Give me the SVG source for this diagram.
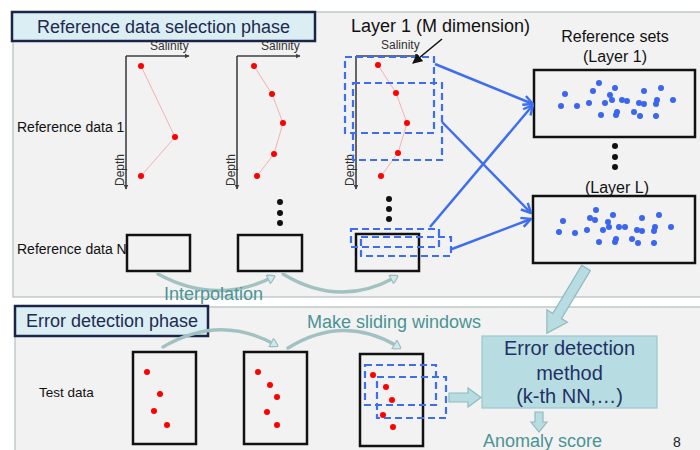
<svg xmlns="http://www.w3.org/2000/svg" width="700" height="450" viewBox="0 0 700 450">
  <defs>
    <style>
      text { font-family: "Liberation Sans", Arial, sans-serif; }
      .panel { fill: #f2f2f2; stroke: #b4bcbc; stroke-width: 1.2; }
      .title { fill: #dbeef4; stroke: #1c2448; stroke-width: 2.5; }
      .title-t { font-size: 18px; fill: #1f2a50; }
      .lbl { font-size: 14px; fill: #111; }
      .ax { stroke: #404040; stroke-width: 1.6; fill: none; }
      .ax-t { font-size: 12px; fill: #333; }
      .prof { stroke: #f4a0a0; stroke-width: 0.8; fill: none; }
      .pt { fill: #ff0000; }
      .box { fill: none; stroke: #111; stroke-width: 2.5; }
      .win { fill: none; stroke: #3d6ef0; stroke-width: 2.2; stroke-dasharray: 7 4; }
      .bl { stroke: #3d6ef0; stroke-width: 2.5; fill: none; }
      .sd { fill: #3a66f0; }
      .dot { fill: #111; }
      .cur { stroke: #a2c2c2; stroke-width: 3.4; fill: none; stroke-linecap: round; }
      .teal { font-size: 18px; fill: #4a9494; }
      .blk { fill: #b7dde2; stroke: #8fbcbc; stroke-width: 1.2; }
      .meth { font-size: 20px; fill: #1f3064; text-anchor: middle; }
    </style>
    <marker id="axh" viewBox="0 0 10 10" refX="9" refY="5" markerWidth="5" markerHeight="5" orient="auto" markerUnits="userSpaceOnUse">
      <path d="M0,0 L10,5 L0,10 z" fill="#404040"/>
    </marker>
    <marker id="blh" viewBox="0 0 10 10" refX="9" refY="5" markerWidth="12" markerHeight="12" orient="auto" markerUnits="userSpaceOnUse">
      <path d="M1,1 L9,5 L1,9" fill="none" stroke="#3d6ef0" stroke-width="2"/>
    </marker>
    <marker id="kh" viewBox="0 0 10 10" refX="9" refY="5" markerWidth="10" markerHeight="10" orient="auto" markerUnits="userSpaceOnUse">
      <path d="M0,0 L10,5 L0,10 z" fill="#111"/>
    </marker>
    <marker id="ch" viewBox="0 0 10 10" refX="5" refY="5" markerWidth="10" markerHeight="10" orient="auto" markerUnits="userSpaceOnUse">
      <path d="M2,0 L10,5 L2,10 z" fill="#cfe9ec" stroke="#9dbdbd" stroke-width="1.2"/>
    </marker>
  </defs>

  <rect width="700" height="450" fill="#ffffff"/>

  <!-- panels -->
  <rect class="panel" x="13" y="12" width="700" height="285"/>
  <rect class="panel" x="15" y="307" width="700" height="160"/>

  <g id="title-ref">
    <rect class="title" x="12" y="12" width="303" height="29"/>
    <text class="title-t" x="163.5" y="33" text-anchor="middle">Reference data selection phase</text>
  </g>
  <g id="title-err">
    <rect class="title" x="15" y="306" width="193" height="30"/>
    <text class="title-t" x="26" y="327">Error detection phase</text>
  </g>

  <g id="row-labels">
    <text class="lbl" x="17" y="132">Reference data 1</text>
    <text class="lbl" x="17" y="254">Reference data N</text>
    <text class="lbl" x="39" y="397" style="font-size:13.5px">Test data</text>
  </g>

  <!-- profile 1 -->
  <g id="profile-1">
    <path class="ax" d="M126,56 V189" marker-end="url(#axh)"/>
    <path class="ax" d="M126,56 H189" marker-end="url(#axh)"/>
    <text class="ax-t" x="150" y="50">Salinity</text>
    <text class="ax-t" transform="translate(124,186) rotate(-90)">Depth</text>
    <polyline class="prof" points="141,66 175,137 141,176"/>
    <circle class="pt" cx="141" cy="66" r="3"/>
    <circle class="pt" cx="175" cy="137" r="3"/>
    <circle class="pt" cx="141" cy="176" r="3"/>
  </g>

  <!-- profile 2 -->
  <g id="profile-2">
    <path class="ax" d="M237,56 V189" marker-end="url(#axh)"/>
    <path class="ax" d="M237,56 H300" marker-end="url(#axh)"/>
    <text class="ax-t" x="261" y="50">Salinity</text>
    <text class="ax-t" transform="translate(235,186) rotate(-90)">Depth</text>
    <polyline class="prof" points="254,66 272,94 283,123 274,154 257,176"/>
    <circle class="pt" cx="254" cy="66" r="3"/>
    <circle class="pt" cx="272" cy="94" r="3"/>
    <circle class="pt" cx="283" cy="123" r="3"/>
    <circle class="pt" cx="274" cy="154" r="3"/>
    <circle class="pt" cx="257" cy="176" r="3"/>
  </g>

  <!-- profile 3 with windows -->
  <g id="profile-3">
    <path class="ax" d="M356,56 V189" marker-end="url(#axh)"/>
    <path class="ax" d="M356,56 H419" marker-end="url(#axh)"/>
    <text class="ax-t" x="381" y="49">Salinity</text>
    <text class="ax-t" transform="translate(354,186) rotate(-90)">Depth</text>
    <polyline class="prof" points="378,65 396,93 407,123 398,153 381,176"/>
    <circle class="pt" cx="378" cy="65" r="3"/>
    <circle class="pt" cx="396" cy="93" r="3"/>
    <circle class="pt" cx="407" cy="123" r="3"/>
    <circle class="pt" cx="398" cy="153" r="3"/>
    <circle class="pt" cx="381" cy="176" r="3"/>
    <rect class="win" x="345" y="57" width="89" height="76"/>
    <rect class="win" x="353" y="83" width="89" height="77"/>
  </g>

  <g id="layer-label">
    <text x="351" y="32" style="font-size:18px" fill="#111">Layer 1 (M dimension)</text>
    <path d="M442,39 L413,63" stroke="#111" stroke-width="1.6" fill="none" marker-end="url(#kh)"/>
  </g>

  <!-- reference data N -->
  <g id="refN-1"><rect class="box" x="127" y="235" width="63" height="36"/></g>
  <g id="refN-2">
    <rect class="box" x="238" y="235" width="64" height="36"/>
    <circle class="dot" cx="280" cy="202" r="3"/>
    <circle class="dot" cx="280" cy="213" r="3"/>
    <circle class="dot" cx="280" cy="223" r="3"/>
  </g>
  <g id="refN-3">
    <rect class="box" x="356" y="234" width="63" height="37"/>
    <circle class="dot" cx="389" cy="199" r="3"/>
    <circle class="dot" cx="389" cy="209" r="3"/>
    <circle class="dot" cx="389" cy="219" r="3"/>
    <rect class="win" x="351" y="229" width="88" height="18"/>
    <rect class="win" x="361" y="237" width="90" height="19"/>
  </g>

  <!-- reference sets -->
  <g id="refset-labels">
    <text x="615" y="42" text-anchor="middle" style="font-size:16px" fill="#111">Reference sets</text>
    <text x="615" y="62" text-anchor="middle" style="font-size:16px" fill="#111">(Layer  1)</text>
    <text x="617" y="193" text-anchor="middle" style="font-size:16px" fill="#111">(Layer  L)</text>
    <circle class="dot" cx="615" cy="146" r="3"/>
    <circle class="dot" cx="615" cy="157" r="3"/>
    <circle class="dot" cx="615" cy="167" r="3"/>
  </g>

  <g id="refset-1">
    <rect class="box" x="534" y="70" width="161" height="67"/>
    <g class="sd">
      <circle cx="599" cy="83" r="3"/><circle cx="565" cy="94" r="3"/><circle cx="593" cy="91" r="3"/>
      <circle cx="615" cy="88" r="3"/><circle cx="610" cy="95" r="3"/><circle cx="644" cy="91" r="3"/>
      <circle cx="661" cy="88" r="3"/><circle cx="561" cy="106" r="3"/><circle cx="577" cy="106" r="3"/>
      <circle cx="589" cy="103" r="3"/><circle cx="605" cy="103" r="3"/><circle cx="612" cy="100" r="3"/>
      <circle cx="622" cy="100" r="3"/><circle cx="627" cy="101" r="3"/><circle cx="639" cy="103" r="3"/>
      <circle cx="644" cy="104" r="3"/><circle cx="657" cy="100" r="3"/><circle cx="656" cy="104" r="3"/>
      <circle cx="673" cy="100" r="3"/><circle cx="601" cy="115" r="3"/><circle cx="617" cy="112" r="3"/>
      <circle cx="616" cy="115" r="3"/><circle cx="634" cy="112" r="3"/><circle cx="640" cy="116" r="3"/>
      <circle cx="656" cy="116" r="3"/>
    </g>
  </g>

  <g id="refset-L">
    <rect class="box" x="533" y="196" width="162" height="67"/>
    <g class="sd">
      <circle cx="596" cy="210" r="3"/><circle cx="563" cy="221" r="3"/><circle cx="590" cy="218" r="3"/>
      <circle cx="595" cy="220" r="3"/><circle cx="613" cy="215" r="3"/><circle cx="642" cy="218" r="3"/>
      <circle cx="659" cy="215" r="3"/><circle cx="559" cy="232" r="3"/><circle cx="575" cy="233" r="3"/>
      <circle cx="587" cy="230" r="3"/><circle cx="603" cy="230" r="3"/><circle cx="608" cy="222" r="3"/>
      <circle cx="609" cy="227" r="3"/><circle cx="619" cy="227" r="3"/><circle cx="625" cy="227" r="3"/>
      <circle cx="637" cy="230" r="3"/><circle cx="642" cy="231" r="3"/><circle cx="655" cy="227" r="3"/>
      <circle cx="654" cy="231" r="3"/><circle cx="671" cy="227" r="3"/><circle cx="599" cy="242" r="3"/>
      <circle cx="616" cy="239" r="3"/><circle cx="615" cy="242" r="3"/><circle cx="632" cy="239" r="3"/>
      <circle cx="638" cy="243" r="3"/><circle cx="654" cy="243" r="3"/>
    </g>
  </g>

  <!-- test data -->
  <g id="test-1">
    <rect class="box" x="133" y="352" width="63" height="92"/>
    <circle class="pt" cx="147" cy="372" r="3"/>
    <circle class="pt" cx="160" cy="394" r="3"/>
    <circle class="pt" cx="154" cy="411" r="3"/>
    <circle class="pt" cx="167" cy="425" r="3"/>
  </g>
  <g id="test-2">
    <rect class="box" x="244" y="352" width="63" height="92"/>
    <circle class="pt" cx="258" cy="372" r="3"/>
    <circle class="pt" cx="270" cy="385" r="3"/>
    <circle class="pt" cx="277" cy="397" r="3"/>
    <circle class="pt" cx="267" cy="412" r="3"/>
    <circle class="pt" cx="277" cy="425" r="3"/>
  </g>
  <g id="test-3">
    <rect class="box" x="360" y="354" width="63" height="92"/>
    <circle class="pt" cx="373" cy="375" r="3"/>
    <circle class="pt" cx="386" cy="387" r="3"/>
    <circle class="pt" cx="392" cy="400" r="3"/>
    <circle class="pt" cx="383" cy="415" r="3"/>
    <circle class="pt" cx="393" cy="427" r="3"/>
    <rect class="win" x="365" y="365" width="71" height="40"/>
    <rect class="win" x="377" y="377" width="69" height="41"/>
  </g>

  <g id="method">
    <rect x="482" y="336" width="175" height="72" fill="#b7dde3" stroke="#9cc8cc" stroke-width="1.2"/>
    <text class="meth" x="569.5" y="355">Error detection</text>
    <text class="meth" x="569.5" y="380">method</text>
    <text class="meth" x="569.5" y="403">(k-th NN,…)</text>
  </g>

  <g id="outputs">
    <text class="teal" x="483" y="447">Anomaly score</text>
    <text x="673" y="447" style="font-size:14px" fill="#222">8</text>
  </g>

  <!-- connectors -->
  <g id="connectors">
    <path class="bl" d="M435,64 L533,104" marker-end="url(#blh)"/>
    <path class="bl" d="M442,122 L531,213" marker-end="url(#blh)"/>
    <path class="bl" d="M430,227 L533,105" marker-end="url(#blh)"/>
    <path class="bl" d="M452,249 L531,219" marker-end="url(#blh)"/>

    <path class="cur" d="M158,274 Q215,305 271,278" marker-end="url(#ch)"/>
    <path class="cur" d="M283,274 Q339,308 394,278" marker-end="url(#ch)"/>
    <text class="teal" x="164" y="300">Interpolation</text>

    <path class="cur" d="M163,347 Q219,314 274,344" marker-end="url(#ch)"/>
    <path class="cur" d="M288,348 Q343,314 397,346" marker-end="url(#ch)"/>
    <text class="teal" x="307" y="328">Make sliding windows</text>

    <polygon class="blk" transform="translate(586,268) rotate(121)" points="0,-5 56,-5 56,-12 76,0 56,12 56,5 0,5"/>
    <polygon class="blk" points="449,393 468,393 468,388 481,397.5 468,407 468,402 449,402"/>
    <polygon class="blk" points="535,412 543,412 543,422 547,422 539,432 531,422 535,422"/>
  </g>
</svg>
